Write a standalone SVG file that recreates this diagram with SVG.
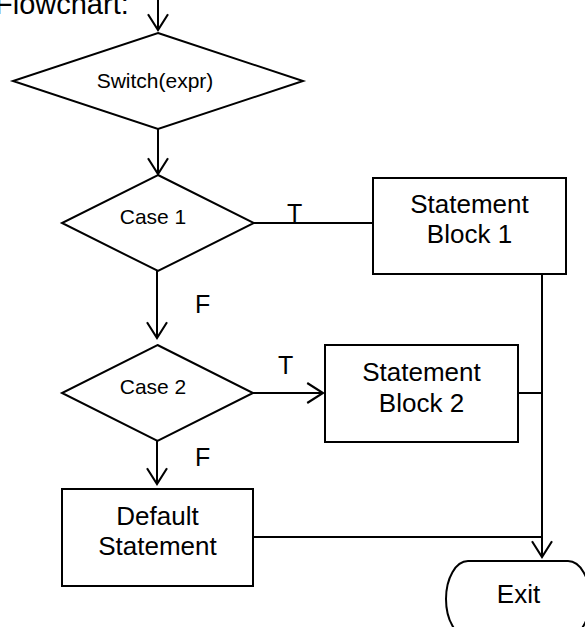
<svg xmlns="http://www.w3.org/2000/svg" width="585" height="627" viewBox="0 0 585 627">
<style>
  .shape { fill: #ffffff; stroke: #000000; stroke-width: 2; }
  .conn { fill: none; stroke: #000000; stroke-width: 2; }
  text { font-family: "Liberation Sans", Arial, sans-serif; fill: #000000; }
  .big { font-size: 26px; text-anchor: middle; }
  .small { font-size: 21px; text-anchor: middle; }
  .lbl { font-size: 25px; }
</style>
<defs>
  <marker id="arrow" markerUnits="userSpaceOnUse" markerWidth="20" markerHeight="24" viewBox="-17 -11 19 22" refX="0" refY="0" orient="auto">
    <path d="M-15,-9.5 L0,0 L-15,9.5" fill="none" stroke="#000000" stroke-width="2"/>
  </marker>
</defs>
<rect x="0" y="0" width="585" height="627" fill="#ffffff"/>
<text id="title" x="-5" y="14" style="font-size:29px">Flowchart:</text>

<g id="connectors">
  <line class="conn" x1="158" y1="0" x2="158" y2="30" marker-end="url(#arrow)"/>
  <line class="conn" x1="158" y1="129" x2="158" y2="174" marker-end="url(#arrow)"/>
  <line class="conn" x1="254" y1="223" x2="373" y2="223"/>
  <line class="conn" x1="157" y1="271" x2="157" y2="338" marker-end="url(#arrow)"/>
  <line class="conn" x1="253" y1="393" x2="323" y2="393" marker-end="url(#arrow)"/>
  <line class="conn" x1="157" y1="441" x2="157" y2="484" marker-end="url(#arrow)"/>
  <line class="conn" x1="542" y1="274" x2="542" y2="557" marker-end="url(#arrow)"/>
  <line class="conn" x1="518" y1="393" x2="542" y2="393"/>
  <line class="conn" x1="253" y1="537" x2="542" y2="537"/>
  <text class="lbl" x="287" y="222">T</text>
  <text class="lbl" x="278" y="374">T</text>
  <text class="lbl" x="195" y="313">F</text>
  <text class="lbl" x="195" y="466">F</text>
</g>

<g id="switch">
  <polygon class="shape" points="158,33 303,81 158,129 13,81"/>
  <text class="small" x="155" y="88">Switch(expr)</text>
</g>

<g id="case1">
  <polygon class="shape" points="158,175 254,223 158,271 62,223"/>
  <text class="small" x="153" y="224">Case 1</text>
</g>

<g id="block1">
  <rect class="shape" x="373" y="178" width="193" height="96"/>
  <text class="big" x="469.5" y="213">Statement</text>
  <text class="big" x="469.5" y="243">Block 1</text>
</g>

<g id="case2">
  <polygon class="shape" points="157.5,345 253,393 157.5,441 62,393"/>
  <text class="small" x="153" y="394">Case 2</text>
</g>

<g id="block2">
  <rect class="shape" x="325" y="345" width="193" height="97"/>
  <text class="big" x="421.5" y="381">Statement</text>
  <text class="big" x="421.5" y="412">Block 2</text>
</g>

<g id="default">
  <rect class="shape" x="62" y="489" width="191" height="97"/>
  <text class="big" x="157.5" y="525">Default</text>
  <text class="big" x="157.5" y="555">Statement</text>
</g>

<g id="exit">
  <path class="shape" d="M468,561 L568,561 A22,38 0 0 1 568,637 L468,637 A22,38 0 0 1 468,561 Z"/>
  <text class="big" x="518.5" y="603">Exit</text>
</g>
</svg>
